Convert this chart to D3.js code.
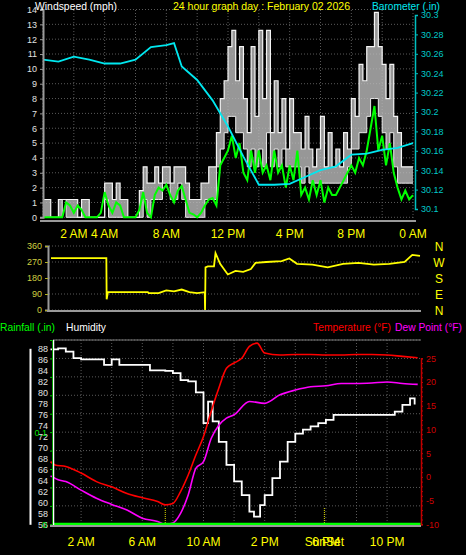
<!DOCTYPE html>
<html><head><meta charset="utf-8">
<script src="https://cdn.jsdelivr.net/npm/d3@7"></script>
<style>body{margin:0;background:#000}svg{display:block}text{font-family:"Liberation Sans",Arial,sans-serif}</style>
</head><body><svg id="c" width="466" height="555"></svg>
<script>
// ---- data ----
const windHours = d3.range(0, 24.001, 0.25);
const windGust = [1.2,1.2,0,0, 1.2,1.2,1.2,1.2, 1.2,0,1.2,1.2, 0,0,0,0, 2.3,2.3,1.2,2.3, 1.2,1.2,0,0, 0,1.8,3.4,2.3, 2.3,3.4,2.3,3.4, 3.4,2.3,3.4,3.4, 3.4,2.3,1.2,1.2, 1.2,2.3,2.3,3.4, 3.4,5.7,8,9.2, 11.5,12.6,9.2,11.5, 8,5.7,11.5,6.8, 12.6,8,12.6,5.7, 9.2,5.7,8,4.6, 8,5.7,5.7,4.6, 6.8,4.6,3.4,4.6, 6.8,3.4,5.7,3.4, 4.6,3.4,5.7,4.6, 8,6.8,10.3,9.2, 11.5,11.5,13.8,11.5, 10.3,8,10.3,6.8, 5.7,3.4,3.4,3.4, 3.4];
const windLow  = [0,0,0,0, 0,1.2,0,0, 0,0,0,0, 0,0,0,0, 1.2,0,0,0, 0,0,0,0, 0,0,1.2,0, 1.2,1.2,1.2,2.3, 2.3,1.2,1.2,2.3, 1.2,0,0,0, 0,0,1.2,1.2, 1.2,3.4,4.6,5.7, 6.8,6.8,5.7,5.7, 4.6,3.4,4.6,3.4, 4.6,3.4,5.7,3.4, 4.6,3.4,4.6,3.4, 3.4,3.4,3.4,2.3, 3.4,2.3,2.3,2.3, 2.3,2.3,2.3,2.3, 2.3,2.3,2.3,3.4, 4.6,4.6,5.7,5.7, 6.8,8,8,6.8, 5.7,4.6,5.7,3.4, 2.3,2.3,2.3,2.3, 2.3];
const windAvg  = [0,0,0,0, 0,0,1,0.8, 0.3,0.8,0.5,0, 0,0,0,0.3, 1.7,0.8,0.3,1, 0.8,0,0,0, 0,0.5,1.7,0.3, 0,1.5,2,1.8, 2.2,1.5,1,1.8, 2.1,1.2,0.3,0.2, 0,0.3,0.8,1.2, 1.3,0.8,3.5,4, 4.5,5.5,4,5, 3,2.5,4.5,3, 4.5,3,3.5,2.5, 4.5,3,3.5,2, 3.5,2.5,4.5,1.5, 2,1.2,2.5,1.5, 2.5,1,2,1.5, 1.5,2,2.5,3, 3.5,3,4,3.5, 4.5,6,7.5,4.5, 5.5,3.5,5,3, 2,1.2,1.8,1.2, 1.5];
const baroHours = [0,1,2,3,4,5,6,7,8,8.5,9,10,11,12,13,14,15,16,17,18,19,20,21,22,23,24];
const baro = [30.254,30.252,30.257,30.254,30.250,30.250,30.254,30.267,30.269,30.271,30.247,30.233,30.212,30.185,30.154,30.125,30.125,30.126,30.133,30.140,30.144,30.156,30.157,30.161,30.163,30.168];
const windTickHours = [2,4,8,12,16,20,24];
const windTickLabels = ["2 AM","4 AM","8 AM","12 PM","4 PM","8 PM","0 AM"];
const dirHours = [0,3.6,3.62,3.7,3.8,6.3,6.35,7,7.5,8,8.5,9,9.5,10.0,10.02,10.05,10.2,10.6,10.7,11,11.5,12,12.5,13,13.3,14,15,15.5,16,17,18,19,20,21,22,23,23.5,24];
const dirDeg =   [292,292,60,100,100,100,95,95,110,105,115,100,95,100,0,240,245,245,320,260,200,220,215,230,265,270,275,290,260,255,240,260,265,255,260,270,310,305];
const dirTicks = [0,90,180,270,360];
const compass = ["N","W","S","E","N"];
const hHours = [0,0.5,1,1.5,2,3,3.5,4,4.5,6,6.5,7,7.5,8,8.5,9,9.5,10,10.3,10.6,11,11.5,12,12.5,13,13.3,13.7,14,14.5,15,15.5,16,16.5,17,17.5,18,18.5,22,22.5,23,23.5,23.8];
const humidity = [87.8,88,87.4,86.2,86,86,85,86,85,85,84,84,83.9,83.5,82.2,82,80,74.4,78.3,74.7,71,66.8,63.8,61.3,58.3,57.4,59.5,61.3,64.4,67.4,71,72.5,73.2,73.8,74.4,75,75.9,75.9,76.5,77.7,78.9,77.8];
const tHours = [0,0.3,1,2,3,4,5,6,7,7.5,8,8.5,9,9.5,10,10.5,11,11.5,12,12.5,13,13.5,14,15,16,17,18,19,20,21,22,23,24];
const temperature = [3.2,2.5,2.2,0.8,-1,-2.1,-3.5,-4.4,-5.2,-5.9,-5.6,-3.1,0.4,4.6,8.5,13.8,18.7,22.9,24,25,27.5,28.2,26.1,25.7,25.8,25.8,25.7,25.7,25.8,25.8,25.7,25.4,25.1];
const dHours = [0,0.5,1,2,3,4,5,6,7,7.5,8,8.5,9,9.5,10,10.5,11,11.5,12,13,14,15,16,17,18,19,20,21,22,23,24];
const dewPoint = [0.2,-0.6,-1,-2.8,-4.5,-5.8,-7,-8.7,-9.4,-10,-9.7,-7.7,-3.8,1.8,3.2,8.1,10.9,12.4,13.1,15.9,15.5,17.3,18.3,19,19.2,19.7,19.7,19.8,20,19.7,19.5];
const rainHours = [0,24];
const rainfall = [0,0];
const humTicks = [88,86,84,82,80,78,76,74,72,70,68,66,64,62,60,58,56];
const tempTicks = [-10,-5,0,5,10,15,20,25];
const bottomTickHours = [2,6,10,14,18,22];
const bottomTickLabels = ["2 AM","6 AM","10 AM","2 PM","6 PM","10 PM"];

const svg = d3.select("#c");
const grid = "#5a5a5a";
function txt(x,y,s,c,size,anchor,len){const t=svg.append("text").attr("x",x).attr("y",y).text(s).attr("fill",c).attr("font-size",size).attr("text-anchor",anchor||"start");if(len)t.attr("textLength",len).attr("lengthAdjust","spacingAndGlyphs");return t;}

// ---- top panel ----
const xT = d3.scaleLinear().domain([0,24]).range([43,413]);
const yW = d3.scaleLinear().domain([0,14]).range([217.3,9.5]);
const yB = d3.scaleLinear().domain([30.1,30.3]).range([209,15]);
const gT = svg.append("g");
yW.ticks(14).forEach(v=>gT.append("line").attr("x1",43).attr("x2",415).attr("y1",yW(v)).attr("y2",yW(v)).attr("stroke",grid).attr("stroke-dasharray","1,2"));
d3.range(0,25,2).forEach(h=>gT.append("line").attr("x1",xT(h)).attr("x2",xT(h)).attr("y1",10).attr("y2",221).attr("stroke",grid).attr("stroke-dasharray","1,2"));
gT.append("path").attr("d",d3.area().x((d,i)=>xT(windHours[i])).y0((d,i)=>yW(windLow[i])).y1(d=>yW(d)).curve(d3.curveStepAfter)(windGust)).attr("fill","#bdbdbd").attr("opacity",0.8);
gT.append("path").attr("d",d3.line().x((d,i)=>xT(windHours[i])).y(d=>yW(d)).curve(d3.curveStepAfter)(windGust)).attr("fill","none").attr("stroke","#f4f4f4").attr("stroke-width",1.2);
gT.append("path").attr("d",d3.line().x((d,i)=>xT(windHours[i])).y(d=>yW(d)).curve(d3.curveStepAfter)(windLow)).attr("fill","none").attr("stroke","#e8e8e8").attr("stroke-width",1);
gT.append("path").attr("d",d3.line().x((d,i)=>xT(windHours[i])).y(d=>yW(d))(windAvg)).attr("fill","none").attr("stroke","#00ff00").attr("stroke-width",2);
gT.append("path").attr("d",d3.line().x((d,i)=>xT(baroHours[i])).y(d=>yB(d))(baro)).attr("fill","none").attr("stroke","#00e8f0").attr("stroke-width",1.8);
gT.append("g").attr("transform","translate(43,0)").call(d3.axisLeft(yW).ticks(14).tickSize(3).tickFormat(d3.format("d"))).call(g=>{g.select(".domain").attr("stroke","#9a9a9a").attr("stroke-width",2);g.selectAll("line").attr("stroke","#9a9a9a");g.selectAll("text").attr("fill","#e0e0e0").attr("font-size",9).attr("font-family","Liberation Sans");});
gT.append("g").attr("transform","translate(415,0)").call(d3.axisRight(yB).tickValues([30.1,30.12,30.14,30.16,30.18,30.2,30.22,30.24,30.26,30.28,30.3]).tickSize(3).tickFormat(d=>+d.toFixed(2)+"")).call(g=>{g.select(".domain").attr("stroke","#00c0c0").attr("stroke-width",1.5);g.selectAll("line").attr("stroke","#00c0c0");g.selectAll("text").attr("fill","#00c8c8").attr("font-size",9).attr("font-family","Liberation Sans");});
gT.append("line").attr("x1",40).attr("x2",416).attr("y1",221).attr("y2",221).attr("stroke","#9a9a9a").attr("stroke-width",2);
windTickHours.forEach((h,i)=>txt(xT(h),238,windTickLabels[i],"#ffff00",12,"middle"));
txt(35,10,"Windspeed (mph)","#ffffff",11.5,"start",82);
txt(173,10,"24 hour graph day : February 02 2026","#ffff00",11.5,"start",177);
txt(372,10,"Barometer (.in)","#00e8f0",11.5,"start",68);

// ---- middle panel ----
const xM = d3.scaleLinear().domain([0,24]).range([51,420]);
const yD = d3.scaleLinear().domain([0,360]).range([310,246]);
const gM = svg.append("g");
dirTicks.forEach(v=>gM.append("line").attr("x1",49).attr("x2",421).attr("y1",yD(v)).attr("y2",yD(v)).attr("stroke",grid).attr("stroke-dasharray","1,2"));
gM.append("path").attr("d",d3.line().x((d,i)=>xM(dirHours[i])).y(d=>yD(d))(dirDeg)).attr("fill","none").attr("stroke","#ffff00").attr("stroke-width",1.8);
gM.append("g").attr("transform","translate(48,0)").call(d3.axisLeft(yD).tickValues(dirTicks).tickSize(3)).call(g=>{g.select(".domain").attr("stroke","#9a9a9a").attr("stroke-width",2);g.selectAll("line").attr("stroke","#b0b020");g.selectAll("text").attr("fill","#d0d040").attr("font-size",9).attr("font-family","Liberation Sans");});
gM.append("line").attr("x1",47).attr("x2",421).attr("y1",311).attr("y2",311).attr("stroke","#9a9a9a").attr("stroke-width",2);
compass.slice().reverse().forEach((c,i)=>txt(439,yD(dirTicks[i])+5,c,"#ffff00",12,"middle"));

// ---- bottom panel ----
const xB = d3.scaleLinear().domain([0,24]).range([50.5,417.7]);
const yH = d3.scaleLinear().domain([56,88]).range([524.3,348.3]);
const yTp = d3.scaleLinear().domain([-10,25]).range([524.3,358.3]);
const yR = d3.scaleLinear().domain([0,0.2]).range([524.3,340]);
const gB = svg.append("g");
d3.range(0,0.201,0.02).forEach(v=>gB.append("line").attr("x1",53).attr("x2",421).attr("y1",yR(v)).attr("y2",yR(v)).attr("stroke",grid).attr("stroke-dasharray","1,2"));
d3.range(2,24,2).forEach(h=>gB.append("line").attr("x1",xB(h)).attr("x2",xB(h)).attr("y1",340).attr("y2",525).attr("stroke",grid).attr("stroke-dasharray","1,2"));
gB.append("line").attr("x1",53).attr("x2",421).attr("y1",340).attr("y2",340).attr("stroke","#7a7a7a");
[7.5,17.9].forEach(h=>gB.append("line").attr("x1",xB(h)).attr("x2",xB(h)).attr("y1",508).attr("y2",524).attr("stroke","#e0e000").attr("stroke-dasharray","1,1"));
gB.append("path").attr("d",d3.line().x((d,i)=>xB(hHours[i])).y(d=>yH(d)).curve(d3.curveStepAfter)(humidity)).attr("fill","none").attr("stroke","#ffffff").attr("stroke-width",1.8);
gB.append("path").attr("d",d3.line().x((d,i)=>xB(tHours[i])).y(d=>yTp(d)).curve(d3.curveMonotoneX)(temperature)).attr("fill","none").attr("stroke","#ff0000").attr("stroke-width",1.6);
gB.append("path").attr("d",d3.line().x((d,i)=>xB(dHours[i])).y(d=>yTp(d)).curve(d3.curveMonotoneX)(dewPoint)).attr("fill","none").attr("stroke","#ff00ff").attr("stroke-width",1.6);
gB.append("path").attr("d",d3.line().x((d,i)=>xB(rainHours[i])+3).y(d=>yR(d))(rainfall)).attr("fill","none").attr("stroke","#00ff00").attr("stroke-width",3);
gB.append("line").attr("x1",53.5).attr("x2",53.5).attr("y1",340).attr("y2",526).attr("stroke","#ffffff").attr("stroke-width",1.5);
gB.append("g").attr("transform","translate(30,0)").call(d3.axisRight(yH).tickValues(humTicks).tickSize(0)).call(g=>{g.select(".domain").attr("stroke","#ffffff").attr("stroke-width",2);g.selectAll("text").attr("fill","#e0e0e0").attr("font-size",9).attr("font-family","Liberation Sans").attr("text-anchor","end").attr("x",18);});
gB.append("g").attr("transform","translate(52,0)").call(d3.axisLeft(yR).tickValues(d3.range(0,0.201,0.02)).tickSize(2).tickFormat(d=>Math.abs(d-0.1)<1e-6?"0.1":(d<1e-6?"0":""))).call(g=>{g.select(".domain").attr("stroke","#00a000");g.selectAll("line").attr("stroke","#00c000");g.selectAll("text").attr("fill","#00e000").attr("font-size",9).attr("font-family","Liberation Sans");});
gB.append("g").attr("transform","translate(421,0)").call(d3.axisRight(yTp).tickValues(d3.range(-10,25.1,1)).tickSize(2).tickFormat(d=>d%5===0?d:"")).call(g=>{g.select(".domain").attr("stroke","#c00000").attr("stroke-width",1.5);g.selectAll("line").attr("stroke","#c00000");g.selectAll("text").attr("fill","#d00000").attr("font-size",9).attr("font-family","Liberation Sans");});
gB.append("line").attr("x1",50).attr("x2",421).attr("y1",526).attr("y2",526).attr("stroke","#9a9a9a").attr("stroke-width",2);
bottomTickHours.forEach((h,i)=>txt(xB(h),546,bottomTickLabels[i],"#ffff00",12,"middle"));
txt(xB(17.9),546,"SunSet","#ffff00",12,"middle");
txt(0,331,"Rainfall (.in)","#00ff00",11.5,"start",55);
txt(66,331,"Humidity","#ffffff",11.5,"start",40);
txt(313,331,"Temperature (°F)","#ff0000",11.5,"start",78);
txt(395,331,"Dew Point (°F)","#ff00ff",11.5,"start",67);
</script></body></html>
